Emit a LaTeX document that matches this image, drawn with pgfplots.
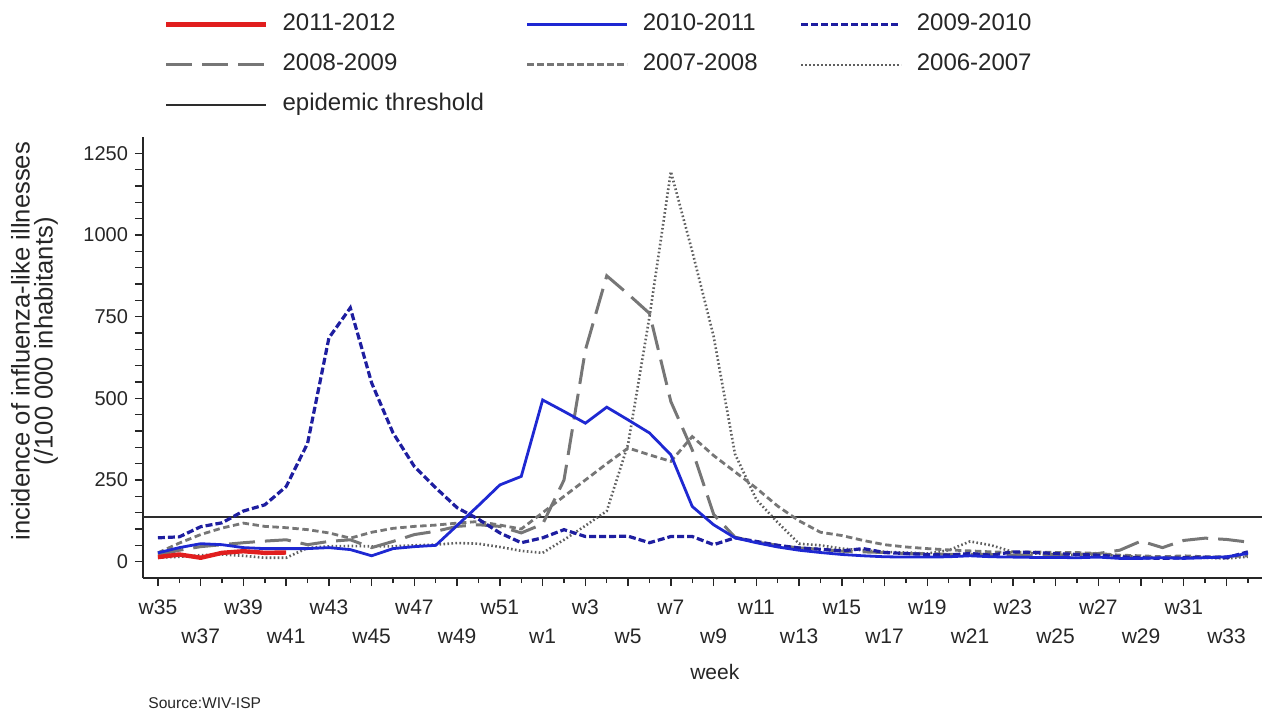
\documentclass[border=0pt]{standalone}
\usepackage{fontspec}
\setmainfont{Liberation Sans}
\usepackage{pgfplots}
\usepackage{pgfplotstable}
\pgfplotsset{compat=1.18}

\definecolor{solidblue}{RGB}{30,40,210}
\definecolor{navyblue}{RGB}{30,30,160}
\definecolor{seasongray}{RGB}{118,118,118}
\definecolor{dotgray}{RGB}{95,95,95}
\definecolor{redseason}{RGB}{225,30,30}
\definecolor{threshold}{RGB}{45,45,45}

% Weekly ILI incidence per 100 000 inhabitants; i = 0 is week 35
\pgfplotstableread{
i  s0607 s0708 s0809 s0910 s1011
0  12  27  21  73  27
1  15  57  35  76  43
2  20  83  46  107 55
3  22  103 52  119 52
4  18  118 58  155 43
5  12  108 63  174 40
6  12  104 67  230 40
7  42  98  52  362 40
8  47  88  62  685 43
9  48  72  67  777 37
10 47  90  43  547 18
11 47  102 62  394 40
12 50  108 83  291 46
13 52  112 93  226 50
14 57  118 108 165 111
15 55  123 113 130 172
16 45  112 108 88  235
17 33  100 88  58  261
18 27  150 115 73  495
19 67  200 250 98  460
20 110 250 648 77  424
21 155 300 875 77  473
22 360 348 819 78  434
23 750 327 760 58  394
24 1194 307 490 77 327
25 950 383 342 77  169
26 690 325 145 52  113
27 330 275 75  73  73
28 190 225 60  62  58
29 120 170 50  50  45
30 55  125 42  42  35
31 50  90  38  38  28
32 40  80  32  33  22
33 35  65  30  40  18
34 30  52  28  28  15
35 28  45  25  25  14
36 25  40  25  22  14
37 35  36  22  20  15
38 62  33  22  25  18
39 50  30  22  20  15
40 30  28  20  30  14
41 25  30  20  28  13
42 22  28  20  25  13
43 20  28  22  22  12
44 22  25  25  20  14
45 18  20  35  15  10
46 15  18  63  12  10
47 12  15  43  10  12
48 14  18  65  12  10
49 12  15  72  14  12
50 10  15  68  12  15
51 15  18  60  30  25
}\ilidata

% Current season, weeks 35 to 41
\pgfplotstableread{
i s1112
0 14
1 22
2 12
3 27
4 32
5 27
6 28
}\currentseason

\begin{document}
\begin{tikzpicture}
\begin{axis}[
  scale only axis, width=559.5pt, height=220.5pt,
  xmin=-0.7, xmax=51.66, ymin=-50, ymax=1300,
  axis x line*=bottom, axis y line*=left,
  axis line style={line width=0.8pt, black!85},
  tick style={line width=0.7pt, black!85},
  tick align=outside,
  major tick length=4pt, minor tick length=2.5pt,
  xtick={0,4,...,48},
  xticklabels={w35,w39,w43,w47,w51,w3,w7,w11,w15,w19,w23,w27,w31},
  extra x ticks={2,6,...,50},
  extra x tick labels={w37,w41,w45,w49,w1,w5,w9,w13,w17,w21,w25,w29,w33},
  extra x tick style={xticklabel style={yshift=-14.5pt}},
  minor xtick={1,3,...,51},
  ytick={0,50,...,1250},
  yticklabels={0,,,,,250,,,,,500,,,,,750,,,,,1000,,,,,1250},
  x tick label style={font=\fontsize{10.5}{12}\selectfont, black!85, yshift=-3.5pt},
  y tick label style={font=\fontsize{10}{12}\selectfont, black!85},
  ylabel={incidence of influenza-like illnesses\\(/100 000 inhabitants)},
  ylabel style={align=center, font=\fontsize{12.8}{11.5}\selectfont, black!85,
    at={(axis description cs:-0.097,0.537)}, anchor=center},
  xlabel={week},
  xlabel style={font=\fontsize{10.5}{12}\selectfont, black!85,
    at={(axis description cs:0.511,-0.213)}, anchor=center},
  legend columns=3,
  legend cell align=left,
  legend image code/.code={\draw[#1] (0pt,0pt) -- (50pt,0pt);},
  legend style={draw=none, fill=none, inner sep=0pt,
    at={(axis description cs:0.0179,1.287)}, anchor=north west,
    font=\fontsize{12}{14}\selectfont, text=black!85,
    row sep=6pt,
    nodes={inner sep=1pt, text height=9pt, text depth=3pt},
    /tikz/every odd column/.append style={column sep=6pt},
    /tikz/every even column/.append style={column sep=20pt}},
]
% legend entries
\addlegendimage{redseason, line width=2.6pt}
\addlegendentry{2011-2012}
\addlegendimage{solidblue, line width=1.4pt}
\addlegendentry{2010-2011}
\addlegendimage{navyblue, line width=1.6pt, dash pattern=on 3.5pt off 1.5pt}
\addlegendentry{2009-2010}
\addlegendimage{seasongray, line width=1.5pt, dash pattern=on 13pt off 5pt}
\addlegendentry{2008-2009}
\addlegendimage{seasongray, line width=1.4pt, dash pattern=on 3.2pt off 1.8pt}
\addlegendentry{2007-2008}
\addlegendimage{dotgray, line width=1.3pt, dash pattern=on 0.8pt off 1.2pt}
\addlegendentry{2006-2007}
\addlegendimage{threshold, line width=0.9pt}
\addlegendentry{epidemic threshold}

% epidemic threshold
\addplot[threshold, line width=0.9pt, forget plot] coordinates {(-0.7,136) (51.66,136)};
% past seasons
\addplot[dotgray, line width=1.3pt, dash pattern=on 0.8pt off 1.2pt, forget plot]
  table[x=i, y=s0607] {\ilidata};
\addplot[seasongray, line width=1.4pt, dash pattern=on 3.2pt off 1.8pt, forget plot]
  table[x=i, y=s0708] {\ilidata};
\addplot[seasongray, line width=1.5pt, dash pattern=on 13pt off 5pt, forget plot]
  table[x=i, y=s0809] {\ilidata};
\addplot[navyblue, line width=1.6pt, dash pattern=on 3.5pt off 1.5pt, forget plot]
  table[x=i, y=s0910] {\ilidata};
\addplot[solidblue, line width=1.4pt, forget plot]
  table[x=i, y=s1011] {\ilidata};
% current season
\addplot[redseason, line width=2.2pt, forget plot]
  table[x=i, y=s1112] {\currentseason};
\end{axis}
\node[anchor=west, inner sep=0pt, font=\fontsize{7.8}{9}\selectfont, black!85]
  at (2.5pt,-62.5pt) {Source:WIV-ISP};
\pgfresetboundingbox
\path (-71.5pt,-67.5pt) rectangle (560.5pt,289pt);
\end{tikzpicture}
\end{document}
